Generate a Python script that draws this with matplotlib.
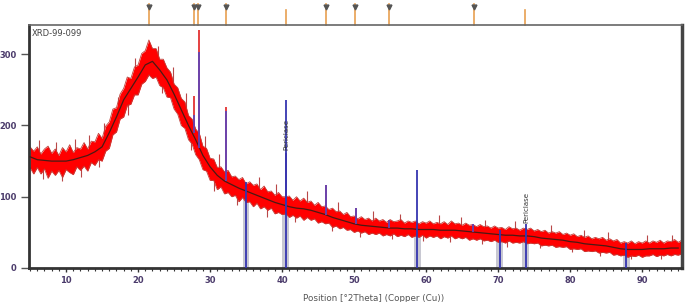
import numpy as np
import matplotlib
matplotlib.use("Agg")
import matplotlib.pyplot as plt
import matplotlib.transforms as mtransforms

# observed scan, upper / lower edge of the noisy trace every 0.5 deg from 5.0
band_top = [170, 164, 170, 160, 167, 171, 161, 167, 158, 169, 163, 173, 162, 169, 167, 176, 167, 178, 177, 189,
            182, 199, 205, 223, 225, 244, 252, 268, 266, 282, 285, 301, 305, 320, 308, 308, 293, 293, 281, 275,
            258, 253, 238, 233, 214, 209, 195, 189, 171, 168, 154, 153, 141, 142, 135, 137, 128, 129, 124, 127,
            118, 121, 116, 118, 110, 115, 107, 108, 102, 106, 100, 100, 101, 95, 100, 94, 98, 92, 94, 88,
            92, 86, 87, 82, 84, 79, 80, 75, 78, 72, 73, 69, 72, 68, 70, 66, 70, 66, 68, 64,
            68, 65, 66, 68, 63, 66, 64, 66, 62, 65, 63, 66, 62, 64, 62, 65, 61, 66, 62, 63,
            60, 63, 60, 61, 58, 61, 58, 59, 56, 59, 56, 57, 54, 58, 55, 56, 53, 56, 54, 56,
            52, 54, 51, 53, 49, 51, 49, 51, 47, 49, 46, 48, 44, 46, 43, 45, 41, 43, 41, 43,
            39, 41, 38, 40, 35, 37, 35, 38, 34, 37, 35, 38, 35, 38, 36, 39, 35, 38, 37, 40,
            36, 39]
band_bottom = [141, 132, 141, 132, 139, 126, 136, 130, 137, 127, 138, 134, 131, 142, 137, 143, 136, 148, 144, 152,
               150, 164, 168, 187, 191, 209, 212, 228, 230, 243, 243, 258, 262, 271, 266, 268, 256, 253, 240, 239,
               223, 216, 200, 196, 180, 174, 159, 152, 138, 136, 123, 123, 110, 114, 104, 106, 100, 102, 93, 99,
               92, 93, 86, 91, 83, 86, 81, 84, 76, 78, 75, 76, 71, 74, 70, 73, 67, 71, 67, 69,
               63, 65, 62, 63, 57, 59, 55, 57, 53, 54, 50, 52, 49, 51, 47, 49, 47, 49, 45, 47,
               45, 48, 44, 46, 44, 47, 43, 45, 43, 46, 42, 45, 43, 45, 41, 44, 42, 45, 41, 43,
               41, 43, 39, 41, 39, 41, 38, 39, 37, 39, 36, 37, 35, 38, 35, 36, 35, 37, 34, 35,
               34, 35, 31, 32, 31, 32, 29, 30, 29, 30, 26, 27, 26, 27, 23, 24, 23, 24, 21, 22,
               21, 22, 18, 19, 17, 18, 15, 17, 16, 18, 15, 17, 17, 19, 16, 18, 17, 19, 17, 19,
               18, 20]

# single noisy counts sticking out of the band
spike_pos = [6.2, 8.6, 11.3, 13.2, 15.3, 17.2, 19.6, 22.8, 24.8, 26.7, 29.3, 31.2, 36.8, 39.2, 43.5,
             47.8, 52.6, 56.4, 61.8, 64.8, 68.2, 72.4, 77.3, 81.9, 85.3, 90.7, 94.1,
             6.8, 9.4, 12.1, 14.6, 18.6, 23.3, 27.3, 30.6, 33.8, 37.9, 41.8, 46.9, 50.8, 55.3,
             59.6, 63.3, 67.7, 71.2, 75.8, 80.3, 84.1, 88.4, 92.6]
spike_counts = [180, 177, 181, 186, 203, 240, 295, 312, 282, 245, 185, 160, 128, 118, 108,
                92, 80, 76, 74, 72, 68, 66, 60, 54, 50, 47, 46,
                125, 122, 128, 142, 215, 245, 165, 108, 88, 72, 64, 52, 44, 40,
                38, 37, 33, 30, 28, 22, 17, 12, 13]

# fitted profile, every 1 deg from 5
fit_pos = list(range(5, 96))
fit_counts = [156, 152, 151, 150, 150, 150, 152, 155, 158, 163, 170, 190, 212, 236, 252, 268, 285, 290, 278, 264,
              244, 222, 200, 180, 158, 142, 130, 122, 117, 112, 108, 104, 100, 96, 92, 89, 86, 84, 83, 81,
              78, 75, 71, 68, 65, 62, 60, 59, 58, 57, 56, 56, 55, 55, 54, 54, 54, 53, 53, 53,
              52, 51, 50, 49, 48, 47, 46, 46, 45, 45, 44, 42, 41, 40, 39, 37, 36, 34, 33, 32,
              31, 29, 27, 26, 26, 26, 27, 27, 27, 28, 28]

# sharp peaks in the scan
peak_pos = [27.7, 28.4, 32.2, 40.5, 46.1, 50.2, 54.8, 66.5, 73.8]
peak_base = [190, 169, 122, 87, 75, 62, 56, 50, 45]
peak_top = [215, 303, 220, 161, 116, 84, 67, 62, 56]
tip_pos = [27.7, 28.4, 32.2]
tip_top = [242, 334, 226]

# reference pattern sticks
ref_pos = [35.0, 40.5, 58.8, 70.2, 73.8, 87.8]
ref_height = [121, 236, 137, 54, 62, 35]
ref_shade = [110, 90, 55, 47, 45, 26]

# peak list markers above the plot
marker_pos = [21.5, 27.7, 28.3, 32.2, 40.5, 46.1, 50.1, 54.8, 66.6, 73.7]
marker_flag = [1, 1, 1, 1, 0, 1, 1, 1, 1, 0]

label_pos = [40.65, 73.9]
label_y = [165, 63]

scan_pos = 5 + 0.5 * np.arange(len(band_top))

fig = plt.figure(figsize=(6.85, 3.02), dpi=100)
ax = fig.add_axes([0.0423, 0.1126, 0.953, 0.8046])

# reference sticks behind the scan
ax.bar(ref_pos, ref_shade, width=0.9, color="#c8c8d2", zorder=1)

# noisy scan
spike_base = np.interp(spike_pos, fit_pos, fit_counts)
ax.vlines(spike_pos, spike_base, spike_counts, color="#b84848", lw=0.8, zorder=2)
ax.fill_between(scan_pos, band_bottom, band_top, color="#ff0000", lw=0, zorder=2)
ax.plot(scan_pos, band_top, color="#c0403a", lw=0.6, zorder=2)
ax.plot(scan_pos, band_bottom, color="#c0403a", lw=0.6, zorder=2)

ax.plot(fit_pos, fit_counts, color="#4a1a14", lw=0.9, zorder=3)

ax.vlines(peak_pos, peak_base, peak_top, color="#6a3fa8", lw=1.4, zorder=4)
ax.vlines(tip_pos, peak_top[:3], tip_top, color="#e02020", lw=1.2, zorder=4)

ax.vlines(ref_pos, 0, ref_height, color="#3535b0", lw=1.3, zorder=5)

for x, y in zip(label_pos, label_y):
    ax.text(x, y, "Periclase", rotation=90, fontsize=5, ha="center", va="bottom",
            color="#333333", family=["Liberation Sans Narrow", "DejaVu Sans"], zorder=6)

ax.text(0.005, 0.985, "XRD-99-099", transform=ax.transAxes, fontsize=6, color="#444444",
        ha="left", va="top")

# markers above the axes
trans = mtransforms.blended_transform_factory(ax.transData, ax.transAxes)
for x, f in zip(marker_pos, marker_flag):
    top = 1.088 if f else 1.062
    ax.plot([x, x], [1.0, top], color="#e8a050", lw=1.2, transform=trans, clip_on=False)
    if f:
        ax.plot(x, 1.075, marker="v", ms=3.5, color="#555555", transform=trans, clip_on=False)

ax.set_xlim(4.85, 95.5)
ax.set_ylim(0, 341)
ax.set_xticks([10, 20, 30, 40, 50, 60, 70, 80, 90])
ax.set_xticks(range(5, 96), minor=True)
ax.set_yticks([0, 100, 200, 300])

for side, w, c in [("left", 2.0, "#333333"), ("bottom", 2.0, "#333333"),
                   ("right", 2.5, "#444444"), ("top", 1.2, "#666666")]:
    ax.spines[side].set_linewidth(w)
    ax.spines[side].set_color(c)

ax.tick_params(axis="y", length=6, width=1, color="#555555", labelsize=6,
               labelcolor="#4b3b6b", pad=3)
ax.tick_params(axis="x", which="major", length=3, width=1, color="#333333",
               labelsize=6, labelcolor="#4b3b6b", pad=3)
ax.tick_params(axis="x", which="minor", length=2.5, width=0.8, color="#333333")
for lab in ax.get_xticklabels() + ax.get_yticklabels():
    lab.set_fontweight("bold")

ax.set_xlabel("Position [°2Theta] (Copper (Cu))", fontsize=6.3, color="#555555")
ax.xaxis.set_label_coords(0.528, -0.105)

fig.savefig("out.png", dpi=100)
